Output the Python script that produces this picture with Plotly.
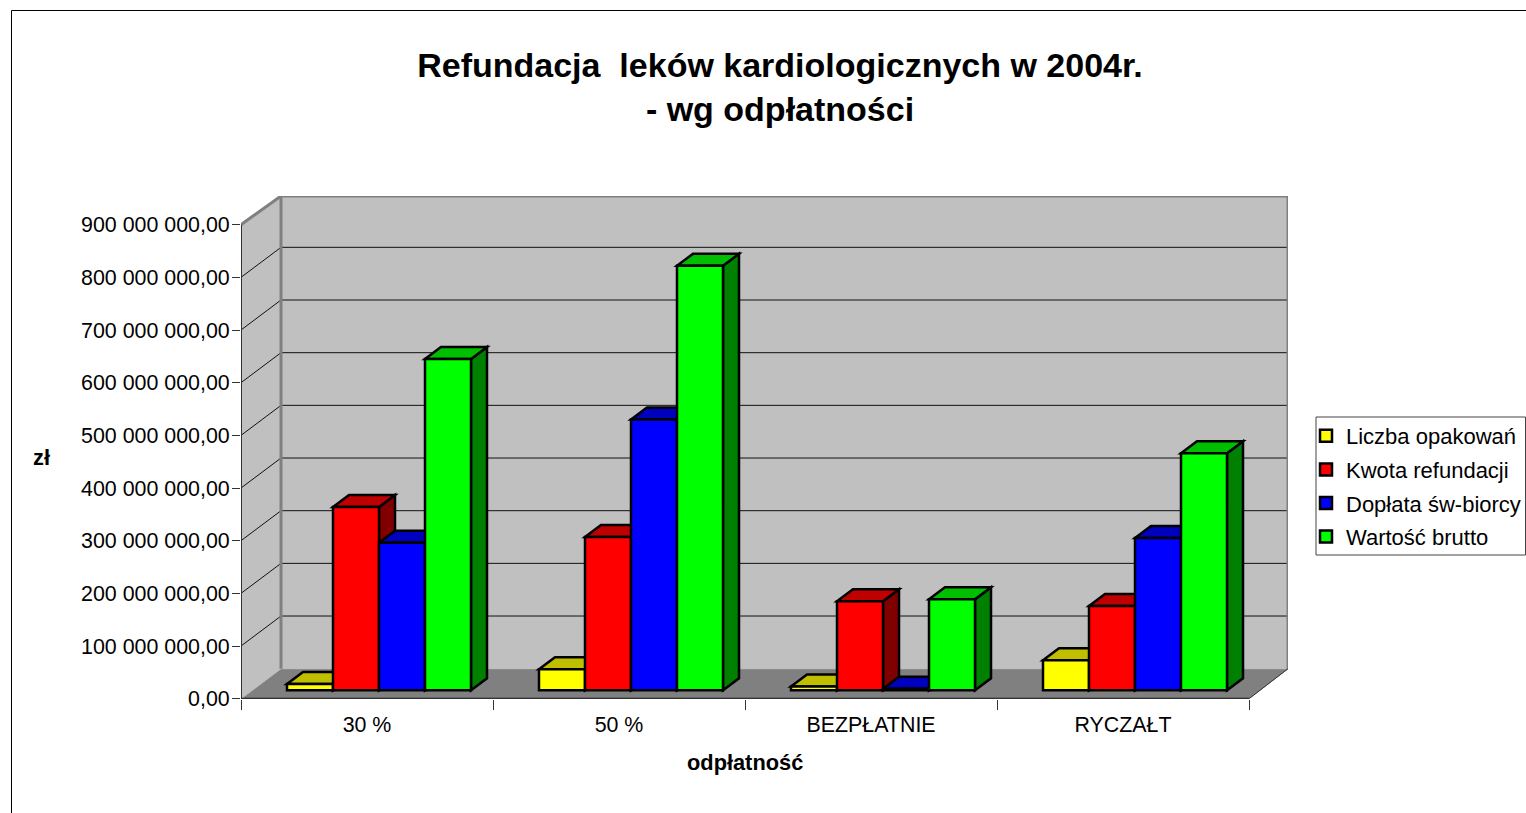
import plotly.graph_objects as go

# ---- data ----
categories = ["30 %", "50 %", "BEZPŁATNIE", "RYCZAŁT"]
liczba_opakowan = [12e6, 40e6, 7e6, 57e6]
kwota_refundacji = [348e6, 291e6, 169e6, 160e6]
doplata = [280e6, 514e6, 3e6, 289e6]
wartosc_brutto = [629e6, 806e6, 173e6, 450e6]
series_names = ["Liczba opakowań", "Kwota refundacji", "Dopłata św-biorcy", "Wartość brutto"]
y_ticks = [i * 100e6 for i in range(10)]
y_labels = ["0,00", "100 000 000,00", "200 000 000,00", "300 000 000,00", "400 000 000,00",
            "500 000 000,00", "600 000 000,00", "700 000 000,00", "800 000 000,00", "900 000 000,00"]

# ---- styles ----
front = ["#FFFF00", "#FF0000", "#0000FF", "#00FF00"]
top = ["#BFBF00", "#BF0000", "#0000BF", "#00BF00"]
side = ["#808000", "#800000", "#000080", "#008000"]
FONT = "Liberation Sans, Arial, sans-serif"
W, H = 1526, 813
L, R, T, B = 241.0, 1288.0, 196.0, 698.7
CAT_PX, VAL_PX = 252.0, 52.67          # px per category, px per 100 M
ux, uy = 1 / CAT_PX, 100e6 / VAL_PX    # data units per pixel
WALL_DX, WALL_DY = 40 * ux, 30 * uy
BAR_DX, BAR_DY = 12 * ux, 8.4 * uy     # bar front plane offset from the axis plane
D_DX, D_DY = 16 * ux, 12 * uy          # bar depth
BAR_W = 46 * ux

x_top = (R - L) * ux
y_top = (B - T) * uy
ymax = y_ticks[-1]
ncat = len(categories)


def poly(points, fill, line, width, layer="between"):
    path = "M " + " L ".join(f"{x} {y}" for x, y in points) + " Z"
    return dict(type="path", path=path, xref="x", yref="y", fillcolor=fill,
                line=dict(color=line, width=width), layer=layer)


def seg(x0, y0, x1, y1, color, width, xref="x", yref="y"):
    return dict(type="line", x0=x0, y0=y0, x1=x1, y1=y1, xref=xref, yref=yref,
                line=dict(color=color, width=width), layer="between")


shapes = []
# floor, side wall, back wall
shapes.append(poly([(0, 0), (WALL_DX, WALL_DY), (x_top, WALL_DY), (ncat, 0)], "#808080", "#808080", 1))
shapes.append(poly([(0, 0), (WALL_DX, WALL_DY), (WALL_DX, y_top), (0, ymax)], "#C0C0C0", "#C0C0C0", 1))
shapes.append(poly([(WALL_DX, WALL_DY), (WALL_DX, y_top), (x_top, y_top), (x_top, WALL_DY)], "#C0C0C0", "#C0C0C0", 1))
# grid lines on the walls
for v in y_ticks[1:-1]:
    shapes.append(seg(0, v, WALL_DX, v + WALL_DY, "#111111", 1))
    shapes.append(seg(WALL_DX, v + WALL_DY, x_top, v + WALL_DY, "#111111", 1))
# wall outlines
shapes.append(seg(WALL_DX, WALL_DY, WALL_DX, y_top, "#808080", 3))
shapes.append(seg(WALL_DX, y_top, x_top, y_top, "#808080", 3))
shapes.append(seg(x_top, WALL_DY, x_top, y_top, "#808080", 3))
shapes.append(seg(0, ymax, WALL_DX, y_top, "#808080", 3))
shapes.append(seg(ncat, 0, x_top, WALL_DY, "#333333", 1))
# axis lines
shapes.append(seg(0, 0, 0, ymax, "#333333", 2))
shapes.append(seg(0, 0, ncat, 0, "#111111", 2))

series = [liczba_opakowan, kwota_refundacji, doplata, wartosc_brutto]
group_w = BAR_W * len(series)
fig = go.Figure()
for k, vals in enumerate(series):
    centers = []
    for i, v in enumerate(vals):
        c = i + 0.5 + BAR_DX - group_w / 2 + (k + 0.5) * BAR_W
        centers.append(c)
        x0, x1 = c - BAR_W / 2, c + BAR_W / 2
        y0, y1 = BAR_DY, BAR_DY + v
        shapes.append(poly([(x1, y0), (x1 + D_DX, y0 + D_DY), (x1 + D_DX, y1 + D_DY), (x1, y1)],
                           side[k], "#000000", 2.5))
        shapes.append(poly([(x0, y1), (x0 + D_DX, y1 + D_DY), (x1 + D_DX, y1 + D_DY), (x1, y1)],
                           top[k], "#000000", 2.5))
    fig.add_trace(go.Bar(
        x=centers, y=vals, base=[BAR_DY] * len(vals), width=BAR_W, name=series_names[k],
        legendgroup=series_names[k],
        marker=dict(color=front[k], line=dict(color="#000000", width=2.5)),
        customdata=categories, hovertemplate="%{customdata}: %{y}<extra>" + series_names[k] + "</extra>",
    ))

# chart frame
shapes.append(dict(type="line", xref="paper", yref="paper", x0=11.5 / W, x1=11.5 / W, y0=0, y1=1 - 10.5 / H,
                   line=dict(color="#000000", width=1), layer="above"))
shapes.append(dict(type="line", xref="paper", yref="paper", x0=11.5 / W, x1=1, y0=1 - 10.5 / H, y1=1 - 10.5 / H,
                   line=dict(color="#000000", width=1), layer="above"))
# legend frame
LEG_L, LEG_T, LEG_B = 1316.0, 417.0, 555.0
shapes.append(dict(type="rect", xref="paper", yref="paper", x0=LEG_L / W, x1=1525.5 / W,
                   y0=1 - LEG_B / H, y1=1 - LEG_T / H, fillcolor="#FFFFFF",
                   line=dict(color="#444444", width=1), layer="between"))

annotations = [
    dict(text="<b>odpłatność</b>", xref="paper", yref="paper", x=745 / W, y=1 - 762 / H, showarrow=False,
         xanchor="center", yanchor="middle", font=dict(family=FONT, size=21.8, color="#000000")),
    dict(text="<b>zł</b>", xref="paper", yref="paper", x=41 / W, y=1 - 457 / H, showarrow=False,
         xanchor="center", yanchor="middle", font=dict(family=FONT, size=21.8, color="#000000")),
]

fig.update_layout(
    width=W, height=H, autosize=False,
    margin=dict(l=0, r=0, t=0, b=0, pad=0),
    paper_bgcolor="#FFFFFF", plot_bgcolor="rgba(0,0,0,0)",
    barmode="overlay", showlegend=True,
    title=dict(text="<b>Refundacja \u00a0leków kardiologicznych w 2004r.<br>- wg odpłatności</b>",
               x=780 / W, xanchor="center", xref="paper", y=1 - 76.5 / H, yanchor="middle", yref="paper",
               font=dict(family=FONT, size=34, color="#000000")),
    font=dict(family=FONT, size=21.4, color="#000000"),
    xaxis=dict(domain=[L / W, R / W], range=[0, x_top], showgrid=False, zeroline=False, showline=False,
               automargin=False,
               tickmode="array", tickvals=[i + 0.5 for i in range(ncat)], ticktext=categories,
               ticks="outside", ticklen=7, tickcolor="rgba(0,0,0,0)", tickfont=dict(family=FONT, size=21.4),
               minor=dict(tickmode="array", tickvals=list(range(ncat + 1)), ticks="outside", ticklen=10,
                          tickcolor="#333333", tickwidth=1, showgrid=False)),
    yaxis=dict(domain=[1 - B / H, 1 - T / H], range=[0, y_top], showgrid=False, zeroline=False, showline=False,
               automargin=False,
               tickmode="array", tickvals=y_ticks, ticktext=y_labels,
               ticks="outside", ticklen=8, tickcolor="#333333", tickwidth=1, ticklabelstandoff=-2,
               tickfont=dict(family=FONT, size=21.4)),
    shapes=shapes,
    annotations=annotations,
    legend=dict(x=LEG_L / W, xanchor="left", y=1 - 415 / H, yanchor="top", bgcolor="rgba(0,0,0,0)", borderwidth=0,
                font=dict(family=FONT, size=22, color="#000000"), tracegroupgap=2, indentation=-10,
                traceorder="grouped", itemclick=False, itemdoubleclick=False),
)

fig.write_html("out.html", post_script="document.body.style.margin='0';", config={"displayModeBar": False})
